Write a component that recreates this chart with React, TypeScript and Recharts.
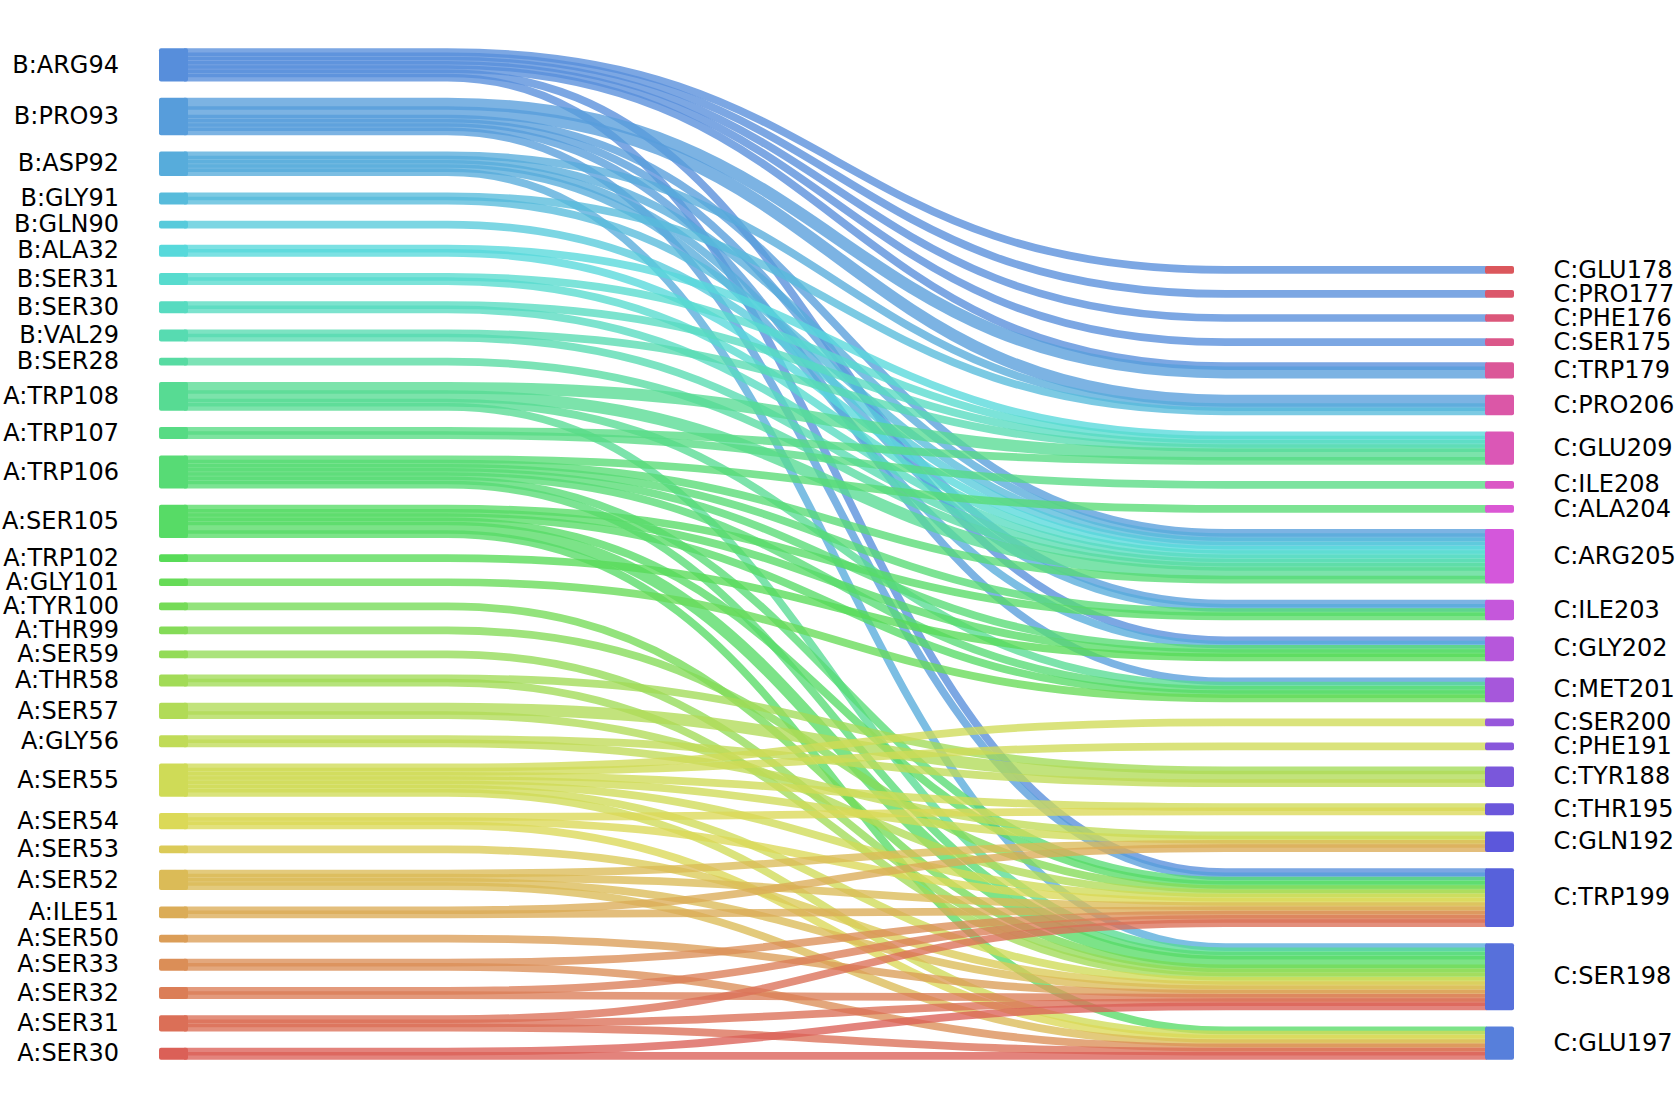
import { Sankey } from "recharts";

const LEFT_RESIDUES = [
  "B:ARG94", "B:PRO93", "B:ASP92", "B:GLY91", "B:GLN90", "B:ALA32", "B:SER31", "B:SER30",
  "B:VAL29", "B:SER28", "A:TRP108", "A:TRP107", "A:TRP106", "A:SER105", "A:TRP102", "A:GLY101",
  "A:TYR100", "A:THR99", "A:SER59", "A:THR58", "A:SER57", "A:GLY56", "A:SER55", "A:SER54",
  "A:SER53", "A:SER52", "A:ILE51", "A:SER50", "A:SER33", "A:SER32", "A:SER31", "A:SER30",
];

const RIGHT_RESIDUES = [
  "C:GLU178", "C:PRO177", "C:PHE176", "C:SER175", "C:TRP179", "C:PRO206", "C:GLU209",
  "C:ILE208", "C:ALA204", "C:ARG205", "C:ILE203", "C:GLY202", "C:MET201", "C:SER200",
  "C:PHE191", "C:TYR188", "C:THR195", "C:GLN192", "C:TRP199", "C:SER198", "C:GLU197",
];

// [from, to, contacts]
const CHAIN_B_CONTACTS: [string, string, number][] = [
  ["B:ARG94", "C:GLU178", 1], ["B:ARG94", "C:PRO177", 1], ["B:ARG94", "C:PHE176", 1],
  ["B:ARG94", "C:SER175", 1], ["B:ARG94", "C:TRP179", 1], ["B:ARG94", "C:GLY202", 1],
  ["B:ARG94", "C:TRP199", 1],
  ["B:PRO93", "C:TRP179", 2], ["B:PRO93", "C:PRO206", 2], ["B:PRO93", "C:ARG205", 1],
  ["B:PRO93", "C:ILE203", 1], ["B:PRO93", "C:MET201", 1], ["B:PRO93", "C:TRP199", 1],
  ["B:ASP92", "C:PRO206", 1], ["B:ASP92", "C:ARG205", 1], ["B:ASP92", "C:ILE203", 1],
  ["B:ASP92", "C:GLY202", 1], ["B:ASP92", "C:SER198", 1],
  ["B:GLY91", "C:PRO206", 1], ["B:GLY91", "C:ARG205", 1],
  ["B:GLN90", "C:ARG205", 1],
  ["B:ALA32", "C:GLU209", 1], ["B:ALA32", "C:ARG205", 1],
  ["B:SER31", "C:GLU209", 1], ["B:SER31", "C:ARG205", 1],
  ["B:SER30", "C:GLU209", 1], ["B:SER30", "C:ARG205", 1],
  ["B:VAL29", "C:GLU209", 1], ["B:VAL29", "C:ARG205", 1],
  ["B:SER28", "C:ARG205", 1],
];

const CHAIN_A_CONTACTS: [string, string, number][] = [
  ["A:TRP108", "C:GLU209", 2], ["A:TRP108", "C:ARG205", 2], ["A:TRP108", "C:MET201", 1],
  ["A:TRP108", "C:SER198", 1],
  ["A:TRP107", "C:GLU209", 1], ["A:TRP107", "C:ILE208", 1],
  ["A:TRP106", "C:ALA204", 1], ["A:TRP106", "C:ARG205", 1], ["A:TRP106", "C:ILE203", 1],
  ["A:TRP106", "C:GLY202", 1], ["A:TRP106", "C:MET201", 1], ["A:TRP106", "C:TRP199", 1],
  ["A:TRP106", "C:SER198", 1],
  ["A:SER105", "C:ILE203", 1], ["A:SER105", "C:GLY202", 1], ["A:SER105", "C:MET201", 1],
  ["A:SER105", "C:TRP199", 1], ["A:SER105", "C:SER198", 2], ["A:SER105", "C:GLU197", 1],
  ["A:TRP102", "C:GLY202", 1],
  ["A:GLY101", "C:MET201", 1],
  ["A:TYR100", "C:SER198", 1],
  ["A:THR99", "C:TRP199", 1],
  ["A:SER59", "C:SER198", 1],
  ["A:THR58", "C:TYR188", 1], ["A:THR58", "C:SER198", 1],
  ["A:SER57", "C:TYR188", 2], ["A:SER57", "C:TRP199", 1],
  ["A:GLY56", "C:TYR188", 1], ["A:GLY56", "C:GLN192", 1],
  ["A:SER55", "C:SER200", 1], ["A:SER55", "C:PHE191", 1], ["A:SER55", "C:THR195", 1],
  ["A:SER55", "C:GLN192", 1], ["A:SER55", "C:TRP199", 1], ["A:SER55", "C:SER198", 1],
  ["A:SER55", "C:GLU197", 1],
  ["A:SER54", "C:THR195", 1], ["A:SER54", "C:TRP199", 1], ["A:SER54", "C:GLU197", 1],
  ["A:SER53", "C:SER198", 1],
  ["A:SER52", "C:GLN192", 1], ["A:SER52", "C:TRP199", 1], ["A:SER52", "C:SER198", 1],
  ["A:SER52", "C:GLU197", 1],
  ["A:ILE51", "C:GLN192", 1], ["A:ILE51", "C:TRP199", 1],
  ["A:SER50", "C:SER198", 1],
  ["A:SER33", "C:TRP199", 1], ["A:SER33", "C:GLU197", 1],
  ["A:SER32", "C:TRP199", 1], ["A:SER32", "C:SER198", 1],
  ["A:SER31", "C:TRP199", 1], ["A:SER31", "C:SER198", 1], ["A:SER31", "C:GLU197", 1],
  ["A:SER30", "C:SER198", 1], ["A:SER30", "C:GLU197", 1],
];

const ALL_RESIDUES = [...LEFT_RESIDUES, ...RIGHT_RESIDUES];

const NODE_PAD = 19.8;
const NODE_W = 29;
const BLEED = 1.75; // blocks and ribbons are drawn a little fatter than their value
// right column sits on the bottom edge instead of the top
const RIGHT_SHIFT = (LEFT_RESIDUES.length - RIGHT_RESIDUES.length) * NODE_PAD;

// hls wheel, walking backwards from blue
function colorOf(name: string) {
  const i = ALL_RESIDUES.indexOf(name);
  const h = (((215 - (i * 360) / ALL_RESIDUES.length) % 360) + 360) % 360;
  return `hsl(${h.toFixed(1)}, 65%, 60%)`;
}

const data = {
  nodes: ALL_RESIDUES.map((name) => ({ name })),
  links: [...CHAIN_B_CONTACTS, ...CHAIN_A_CONTACTS].map(([s, t, v]) => ({
    source: ALL_RESIDUES.indexOf(s),
    target: ALL_RESIDUES.indexOf(t),
    value: v,
  })),
};

function ResidueNode(props: any) {
  const { x, y, width, height, payload } = props;
  const right = RIGHT_RESIDUES.includes(payload.name);
  const top = y + (right ? RIGHT_SHIFT : 0);
  return (
    <g>
      <rect
        x={x}
        y={top - BLEED}
        width={width}
        height={height + 2 * BLEED}
        rx={2}
        fill={colorOf(payload.name)}
      />
      <text
        x={right ? x + width + 39.5 : x - 40}
        y={top + height / 2}
        dy="0.32em"
        textAnchor={right ? "start" : "end"}
        fontSize={24}
        fontFamily="DejaVu Sans"
        fill="#000"
      >
        {payload.name}
      </text>
    </g>
  );
}

function ContactLink(props: any) {
  const { sourceX, targetX, sourceY, targetY, linkWidth, payload } = props;
  const src = payload.source;
  const srcName = typeof src === "number" ? ALL_RESIDUES[src] : src.name;
  const ty = targetY + RIGHT_SHIFT;
  const span = targetX - sourceX;
  const x1 = sourceX + span * 0.2;
  const x2 = sourceX + span * 0.8;
  const xm = (x1 + x2) / 2;
  return (
    <path
      d={`M${sourceX - 4},${sourceY}L${x1},${sourceY}C${xm},${sourceY} ${xm},${ty} ${x2},${ty}L${targetX + 2},${ty}`}
      fill="none"
      stroke={colorOf(srcName)}
      strokeWidth={linkWidth + 2 * BLEED}
      strokeOpacity={0.78}
    />
  );
}

export default function App() {
  return (
    <div style={{ position: "absolute", left: 0, top: 0, width: 1679, height: 1090 }}>
      <Sankey
        width={1679}
        height={1090}
        data={data}
        nodePadding={NODE_PAD}
        nodeWidth={NODE_W}
        iterations={0}
        sort={false}
        margin={{ top: 50, right: 165, bottom: 32, left: 159 }}
        node={(p: any) => <ResidueNode {...p} />}
        link={(p: any) => <ContactLink {...p} />}
      />
    </div>
  );
}
